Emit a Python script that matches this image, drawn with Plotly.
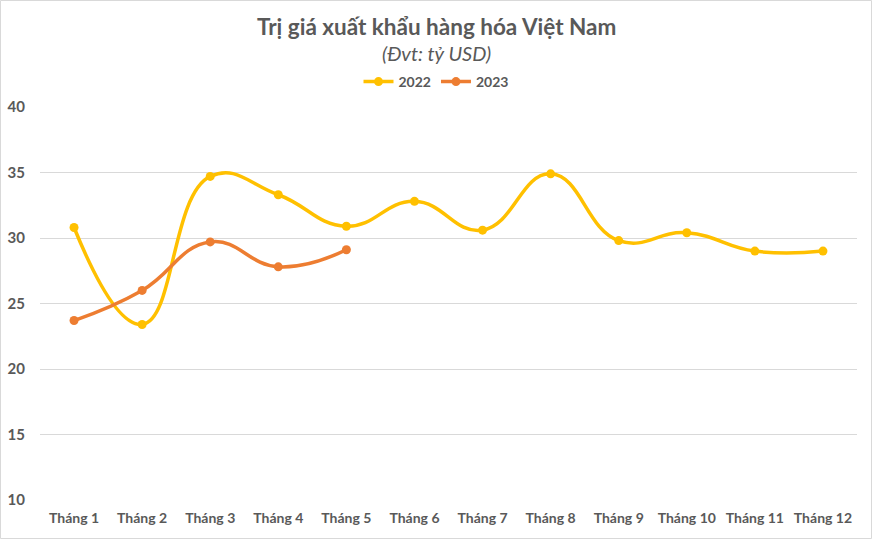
import plotly.graph_objects as go

months = ["Tháng 1", "Tháng 2", "Tháng 3", "Tháng 4", "Tháng 5", "Tháng 6",
          "Tháng 7", "Tháng 8", "Tháng 9", "Tháng 10", "Tháng 11", "Tháng 12"]
values_2022 = [30.8, 23.4, 34.7, 33.3, 30.9, 32.8, 30.6, 34.9, 29.8, 30.4, 29.0, 29.0]
values_2023 = [23.7, 26.0, 29.7, 27.8, 29.1]
y_ticks = [10, 15, 20, 25, 30, 35, 40]

W, H = 872, 539
ml, mr, mt, mb = 40, 15, 107, 39
pw, ph = W - ml - mr, H - mt - mb

font_family = "Lato, 'Open Sans', sans-serif"
gray = "#595959"

fig = go.Figure()
fig.add_trace(go.Scatter(
    x=months, y=values_2022, name="2022", mode="lines+markers",
    line=dict(color="#FFC000", width=3.5, shape="spline", smoothing=1.3),
    marker=dict(color="#FFC000", size=9),
))
fig.add_trace(go.Scatter(
    x=months[:len(values_2023)], y=values_2023, name="2023", mode="lines+markers",
    line=dict(color="#ED7D31", width=3.5, shape="spline", smoothing=1.3),
    marker=dict(color="#ED7D31", size=9),
))

fig.update_layout(
    width=W, height=H,
    margin=dict(l=ml, r=mr, t=mt, b=mb, autoexpand=False),
    paper_bgcolor="white", plot_bgcolor="white",
    font=dict(family=font_family, color=gray),
    showlegend=True,
    legend=dict(orientation="h", x=(W / 2 - ml) / pw, xanchor="center", y=1 + (107 - 82) / ph, yanchor="middle",
                font=dict(size=14, color=gray, family=font_family, weight="bold"),
                itemwidth=30, tracegroupgap=0, bgcolor="rgba(0,0,0,0)"),
    xaxis=dict(showgrid=False, showline=False, ticks="", zeroline=False, automargin=False,
               range=[-0.5, len(months) - 0.5], ticklabelstandoff=8,
               tickfont=dict(size=14, color=gray, family=font_family, weight="bold")),
    yaxis=dict(range=[10, 40], tickvals=y_ticks, showgrid=True, gridcolor="#d9d9d9", gridwidth=1,
               zeroline=False, showline=False, ticks="", automargin=False, ticklabelstandoff=14,
               tickfont=dict(size=15, color=gray, family=font_family, weight="bold")),
    annotations=[
        dict(text="<b>Trị giá xuất khẩu hàng hóa Việt Nam</b>", xref="paper", yref="paper",
             x=(W / 2 - ml) / pw, y=1 + (mt - 26) / ph, xanchor="center", yanchor="middle",
             showarrow=False, font=dict(size=22.5, color=gray, family=font_family)),
        dict(text="<i>(Đvt: tỷ USD)</i>", xref="paper", yref="paper",
             x=(W / 2 - ml) / pw, y=1 + (mt - 53) / ph, xanchor="center", yanchor="middle",
             showarrow=False, font=dict(size=20, color=gray, family=font_family)),
    ],
    shapes=[dict(type="rect", xref="paper", yref="paper",
                 x0=(0.5 - ml) / pw, x1=(W - 0.5 - ml) / pw,
                 y0=-(mb - 0.5) / ph, y1=1 + (mt - 0.5) / ph,
                 line=dict(color="#d9d9d9", width=1), fillcolor="rgba(0,0,0,0)", layer="below")],
)

fig.write_html("out.html")
